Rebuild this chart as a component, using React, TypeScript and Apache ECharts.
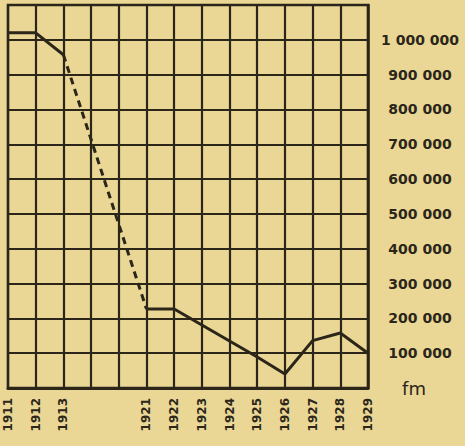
import React, { useEffect, useRef } from "react";
import * as echarts from "echarts";

const years: string[] = ["1911", "1912", "1913", "", "", "1921", "1922", "1923", "1924", "1925", "1926", "1927", "1928", "1929"];
const beforeWar: (number | null)[] = [1020000, 1020000, 957000, null, null, null, null, null, null, null, null, null, null, null];
const gapEstimate: (number | null)[] = [null, null, 957000, null, null, 227000, null, null, null, null, null, null, null, null];
const afterWar: (number | null)[] = [null, null, null, null, null, 227000, 227000, 181000, 135000, 89000, 40000, 136000, 158000, 100000];
const yTickLabels: string[] = ["fm", "100 000", "200 000", "300 000", "400 000", "500 000", "600 000", "700 000", "800 000", "900 000", "1 000 000", ""];

const INK = "#2b2619";
const PAPER = "#eAd795";

export default function App() {
  const ref = useRef<HTMLDivElement>(null);
  useEffect(() => {
    if (!ref.current) return;
    const chart = echarts.init(ref.current, null, { renderer: "svg" });
    chart.setOption({
      animation: false,
      backgroundColor: PAPER,
      grid: { left: 8, top: 5, width: 360, height: 383, show: true, borderColor: INK, borderWidth: 2.5, backgroundColor: "transparent" },
      xAxis: {
        type: "category",
        data: years,
        boundaryGap: false,
        axisLine: { show: true, lineStyle: { color: INK, width: 3 } },
        axisTick: { show: false },
        splitLine: { show: true, lineStyle: { color: INK, width: 2.2 } },
        axisLabel: {
          interval: 0,
          rotate: 90,
          margin: 10,
          color: INK,
          fontFamily: "DejaVu Sans",
          fontWeight: "bold",
          fontSize: 12,
        },
      },
      yAxis: {
        type: "value",
        position: "right",
        min: 0,
        max: 1100000,
        interval: 100000,
        axisLine: { show: true, lineStyle: { color: INK, width: 2.5 } },
        axisTick: { show: false },
        splitLine: { show: true, lineStyle: { color: INK, width: 2.2 } },
        axisLabel: {
          margin: 52,
          align: "center",
          color: INK,
          fontFamily: "DejaVu Sans",
          fontWeight: "bold",
          fontSize: 14,
          formatter: (v: number) => {
            const i = Math.round(v / 100000);
            const t = yTickLabels[i] ?? "";
            if (i === 0) return "{fm|" + t + "}";
            return t;
          },
          rich: {
            fm: { fontSize: 18, fontWeight: "normal", fontFamily: "DejaVu Sans", color: INK, padding: [0, 12, 0, 0] },
          },
        },
      },
      series: [
        {
          type: "line",
          data: beforeWar,
          showSymbol: false,
          symbol: "none",
          lineStyle: { color: INK, width: 3 },
        },
        {
          type: "line",
          data: gapEstimate,
          connectNulls: true,
          showSymbol: false,
          symbol: "none",
          lineStyle: { color: INK, width: 3, type: [7, 5] },
        },
        {
          type: "line",
          data: afterWar,
          showSymbol: false,
          symbol: "none",
          lineStyle: { color: INK, width: 3 },
        },
      ],
    });
    return () => chart.dispose();
  }, []);
  return <div ref={ref} style={{ position: "fixed", left: 0, top: 0, width: 465, height: 446 }} />;
}
